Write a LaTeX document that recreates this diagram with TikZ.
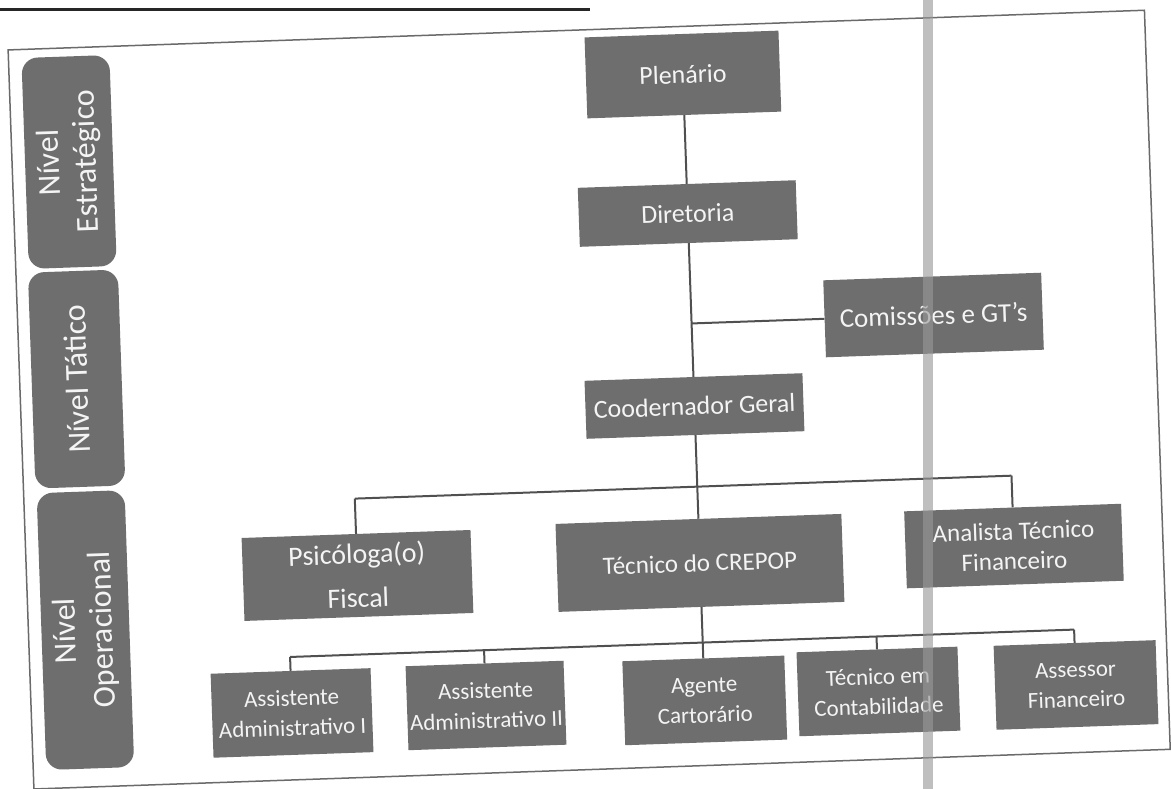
\documentclass[tikz,border=0pt]{standalone}
\usepackage{fontspec}
\setmainfont{Carlito}
\definecolor{boxgray}{HTML}{6E6E6E}
\definecolor{boxtext}{HTML}{F4F4F4}
\definecolor{linegray}{HTML}{505050}
\definecolor{framegray}{HTML}{6A6A6A}
\definecolor{bandgray}{HTML}{999999}
\tikzset{
  box/.style={fill=boxgray, text=boxtext, inner sep=0pt, align=center,
    font=\fontsize{26}{30}\selectfont},
  smallbox/.style={box, minimum width=160pt, minimum height=84pt,
    font=\fontsize{23}{30}\selectfont},
  lvl/.style={fill=boxgray, text=boxtext, rounded corners=16pt, inner sep=0pt,
    align=center, rotate=90, font=\fontsize{32}{37}\selectfont},
  conn/.style={draw=linegray, line width=2pt},
}
\begin{document}
\begin{tikzpicture}[x=1pt,y=1pt]
\useasboundingbox (0,-789) rectangle (1171,0);
\fill[white] (0,-789) rectangle (1171,0);
\draw[line width=3pt, black!85] (0,-10) -- (590,-10);
\begin{scope}[shift={(585.5,-394.5)}, rotate=2, transform shape]
  \draw[framegray, line width=1.5pt] (-565,-375) rectangle (572,364.5);
  % level labels
  \node[lvl, minimum width=211pt, minimum height=88pt] (est) at (-508,250.4) {Nível\\Estratégico};
  \node[lvl, minimum width=216pt, minimum height=90pt] (tat) at (-508,33.2) {Nível Tático};
  \node[lvl, minimum width=277pt, minimum height=88pt] (ope) at (-508,-218) {Nível\\Operacional};
  % chart boxes
  \node[box, minimum width=194pt, minimum height=81pt] (plen) at (108.5,316.4) {Plenário};
  \node[box, minimum width=218pt, minimum height=59pt] (dir) at (108.5,177.3) {Diretoria};
  \node[box, minimum width=218pt, minimum height=77pt, font=\fontsize{27}{30}\selectfont] (com) at (350.6,67.3) {Comissões e GT’s};
  \node[box, minimum width=218pt, minimum height=58pt] (coord) at (108.5,-15.3) {Coodernador Geral};
  \node[box, minimum width=229pt, minimum height=83pt, font=\fontsize{28}{30}\selectfont] (psi) at (-234.2,-172.9) {Psicóloga(o)\\[14pt]Fiscal};
  \node[box, minimum width=286pt, minimum height=88pt, font=\fontsize{25}{30}\selectfont] (crepop) at (108.5,-172.3) {Técnico do CREPOP};
  \node[box, minimum width=217pt, minimum height=77pt, font=\fontsize{25}{30}\selectfont] (anal) at (422.9,-166.4) {Analista Técnico\\Financeiro};
  \node[smallbox] (aa1) at (-304.4,-308) {Assistente\\Administrativo I};
  \node[smallbox, minimum width=158pt] (aa2) at (-110.3,-307.3) {Assistente\\Administrativo II};
  \node[smallbox, minimum width=162pt] (ag) at (108.5,-309.9) {Agente\\Cartorário};
  \node[smallbox, minimum width=161pt] (tec) at (282.4,-307) {Técnico em\\Contabilidade};
  \node[smallbox, minimum width=162pt] (ass) at (480.1,-307.4) {Assessor\\Financeiro};
  % junction coordinates
  \coordinate (cj) at (108.5,67.3);
  \coordinate (b1l) at (-234.2,-96);
  \coordinate (b1r) at (422.9,-96);
  \coordinate (b2l) at (-304.4,-252);
  \coordinate (b2a) at (-110.3,-252);
  \coordinate (b2t) at (282.4,-252);
  \coordinate (b2r) at (480.1,-252);
  % connectors
  \draw[conn] (plen.south) -- (dir.north);
  \draw[conn] (dir.south) -- (coord.north);
  \draw[conn] (cj) -- (com.west);
  \draw[conn] (coord.south) -- (crepop.north);
  \draw[conn] (b1l) -- (b1r);
  \draw[conn] (psi.north) -- (b1l);
  \draw[conn] (anal.north) -- (b1r);
  \draw[conn] (crepop.south) -- (ag.north);
  \draw[conn] (b2l) -- (b2r);
  \draw[conn] (aa1.north) -- (b2l);
  \draw[conn] (aa2.north) -- (b2a);
  \draw[conn] (tec.north) -- (b2t);
  \draw[conn] (ass.north) -- (b2r);
\end{scope}
\fill[bandgray, opacity=0.62] (923,-789) rectangle (933,0);
\end{tikzpicture}
\end{document}
